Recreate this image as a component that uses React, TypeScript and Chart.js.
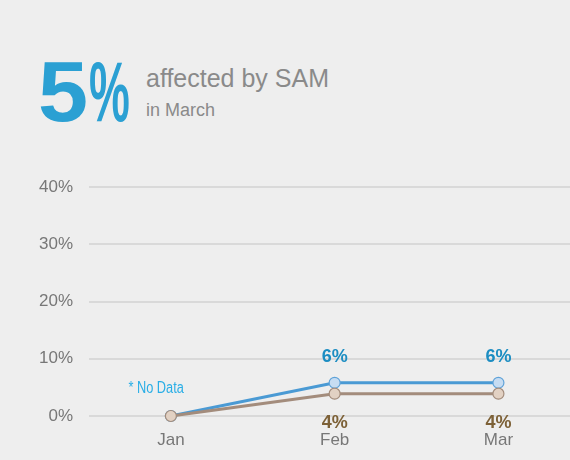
import React, { useEffect, useRef } from "react";
import { Chart, registerables } from "chart.js";

Chart.register(...registerables);

const months = ["Jan", "Feb", "Mar"];
const samValues = [0, 5.8, 5.8];
const mamValues = [0, 3.9, 3.9];
const yTicks = [0, 10, 20, 30, 40];
const noDataLabel = "* No Data";

const labelPlugin = {
  id: "valueLabels",
  afterDatasetsDraw(chart: any) {
    const ctx = chart.ctx;
    const xs = chart.scales.x;
    const ys = chart.scales.y;
    ctx.save();
    ctx.textAlign = "center";
    ctx.textBaseline = "middle";
    ctx.font = "bold 18px 'Liberation Sans', Arial, sans-serif";
    months.forEach((m, i) => {
      if (i === 0) return;
      const x = xs.getPixelForValue(i);
      ctx.fillStyle = "#1c8dc2";
      ctx.fillText(Math.round(samValues[i]) + "%", x, ys.getPixelForValue(samValues[i]) - 26);
      ctx.fillStyle = "#7d6137";
      ctx.fillText(Math.round(mamValues[i]) + "%", x, ys.getPixelForValue(mamValues[i]) + 29);
    });
    ctx.restore();
    ctx.save();
    ctx.font = "16px 'Liberation Sans', Arial, sans-serif";
    ctx.fillStyle = "#2aaee6";
    ctx.textAlign = "right";
    ctx.textBaseline = "middle";
    ctx.translate(xs.getPixelForValue(0) + 13, ys.getPixelForValue(0) - 27);
    ctx.scale(0.8, 1);
    ctx.fillText(noDataLabel, 0, 0);
    ctx.restore();
  },
};

export default function App() {
  const ref = useRef<HTMLCanvasElement>(null);
  useEffect(() => {
    if (!ref.current) return;
    const chart = new Chart(ref.current, {
      type: "line",
      data: {
        labels: months,
        datasets: [
          {
            label: "MAM",
            data: mamValues,
            borderColor: "#a38c7c",
            borderWidth: 3,
            pointRadius: 5.5,
            pointBackgroundColor: "#e2d1c3",
            pointBorderColor: "#a38c7c",
            pointBorderWidth: 1.2,
            tension: 0,
            clip: false,
          },
          {
            label: "SAM",
            data: samValues,
            borderColor: "#4a9ad4",
            borderWidth: 3,
            pointRadius: 5.5,
            pointBackgroundColor: "#c6dcf2",
            pointBorderColor: "#5fa2d8",
            pointBorderWidth: 1.2,
            tension: 0,
            clip: false,
          },
        ],
      },
      options: {
        animation: false,
        responsive: false,
        layout: { padding: { top: 27, right: 0, left: 0, bottom: 0 } },
        plugins: { legend: { display: false }, tooltip: { enabled: false } },
        scales: {
          x: {
            offset: true,
            grid: { display: false, drawTicks: false },
            border: { display: false },
            ticks: {
              color: "#777777",
              font: { family: "'Liberation Sans', Arial, sans-serif", size: 17 },
              padding: 14,
            },
            afterFit: (s: any) => {
              s.height = 44;
            },
          },
          y: {
            min: 0,
            max: 40,
            afterBuildTicks: (s: any) => {
              s.ticks = yTicks.map((v) => ({ value: v }));
            },
            grid: { color: "#d9d9d9", lineWidth: 2, drawTicks: false },
            border: { display: false },
            ticks: {
              color: "#777777",
              font: { family: "'Liberation Sans', Arial, sans-serif", size: 17 },
              padding: 16,
              callback: (v: any) => v + "%",
            },
            afterFit: (s: any) => {
              s.width = 89;
            },
          },
        },
      },
      plugins: [labelPlugin],
    });
    return () => chart.destroy();
  }, []);

  return (
    <div
      style={{
        position: "fixed",
        left: 0,
        top: 0,
        width: 570,
        height: 460,
        background: "#eeeeee",
        overflow: "hidden",
        fontFamily: "'Liberation Sans', Arial, sans-serif",
      }}
    >
      <div
        style={{
          position: "absolute",
          left: 38,
          top: 49,
          fontSize: 85,
          lineHeight: 1,
          fontWeight: "bold",
          color: "#2ba0d3",
          whiteSpace: "nowrap",
        }}
      >
        <span style={{ display: "inline-block", transform: "scaleX(1.06)", transformOrigin: "left" }}>5</span>
        <span
          style={{
            display: "inline-block",
            position: "absolute",
            left: 51,
            top: 0,
            transform: "scaleX(0.54)",
            transformOrigin: "left",
          }}
        >
          %
        </span>
      </div>
      <div
        style={{
          position: "absolute",
          left: 146,
          top: 66,
          fontSize: 25,
          lineHeight: 1,
          color: "#8a8a8a",
          whiteSpace: "nowrap",
        }}
      >
        affected by SAM
      </div>
      <div
        style={{
          position: "absolute",
          left: 146,
          top: 101,
          fontSize: 18,
          lineHeight: 1,
          color: "#8a8a8a",
          whiteSpace: "nowrap",
        }}
      >
        in March
      </div>
      <canvas
        ref={ref}
        width={587}
        height={300}
        style={{ position: "absolute", left: 0, top: 160, width: 587, height: 300 }}
      />
    </div>
  );
}
